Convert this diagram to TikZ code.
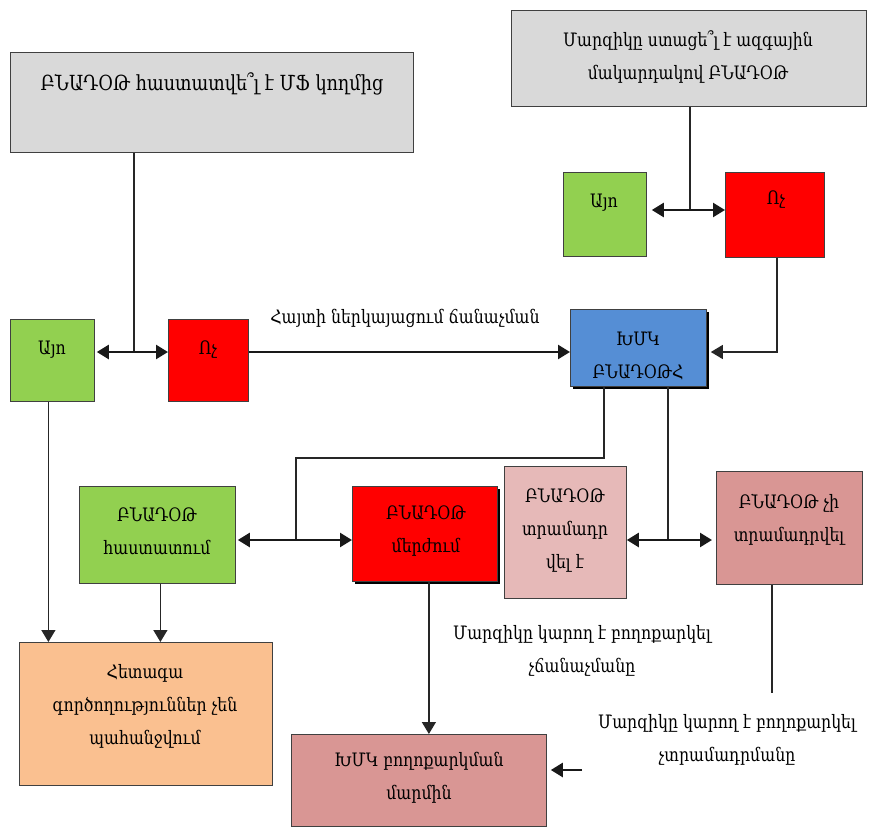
\documentclass[tikz,border=0pt]{standalone}
\usepackage{fontspec}
\setmainfont{DejaVu Serif}[FakeStretch=0.85]
\usetikzlibrary{arrows.meta,shadows}
\definecolor{cgray}{HTML}{D9D9D9}
\definecolor{cgreen}{HTML}{92D050}
\definecolor{cred}{HTML}{FF0000}
\definecolor{cblue}{HTML}{558ED5}
\definecolor{cpinkl}{HTML}{E6B9B8}
\definecolor{cpinkd}{HTML}{D99694}
\definecolor{corange}{HTML}{FAC090}
\tikzset{
  box/.style={draw=black!75, line width=0.8pt, anchor=north west, inner sep=0pt},
  shad/.style={drop shadow={shadow xshift=3pt, shadow yshift=-3pt, fill=black, opacity=1}},
  txt/.style={align=center, inner sep=0pt, font=\fontsize{18.5}{33}\selectfont, text=black},
  bigtxt/.style={txt, font=\fontsize{20.8}{33}\selectfont},
  thinln/.style={line width=1.3pt, draw=black!85},
  thkln/.style={line width=2.4pt, draw=black!90},
  tip/.style={-{Triangle[length=12pt,width=14pt]}},
  dbl/.style={{Triangle[length=12pt,width=14pt]}-{Triangle[length=12pt,width=14pt]}}
}
\begin{document}
\begin{tikzpicture}[x=1pt,y=-1pt]
\useasboundingbox (0,0) rectangle (870,827);
% boxes
\node[box, fill=cgray, minimum width=403pt, minimum height=100pt] (g1) at (10,52) {};
\node[box, fill=cgray, minimum width=355pt, minimum height=96pt] (g2) at (511,10) {};
\node[box, fill=cgreen, minimum width=83pt, minimum height=84pt] (ay2) at (563,172) {};
\node[box, fill=cred, minimum width=99pt, minimum height=85pt] (no2) at (725,172) {};
\node[box, fill=cgreen, minimum width=84pt, minimum height=82pt] (ay1) at (10,319) {};
\node[box, fill=cred, minimum width=80pt, minimum height=82pt] (no1) at (168,319) {};
\node[box, shad, fill=cblue, minimum width=136pt, minimum height=77pt] (xmk) at (570,309) {};
\node[box, fill=cgreen, minimum width=156pt, minimum height=97pt] (gh) at (79,486) {};
\node[box, shad, fill=cred, minimum width=145pt, minimum height=95pt] (rm) at (352,486) {};
\node[box, fill=cpinkl, minimum width=122pt, minimum height=132pt] (pl) at (504,466) {};
\node[box, fill=cpinkd, minimum width=146pt, minimum height=113pt] (pd) at (716,471) {};
\node[box, fill=corange, minimum width=253pt, minimum height=143pt] (or) at (19,642) {};
\node[box, fill=cpinkd, minimum width=255pt, minimum height=92pt] (ap) at (291,734) {};
% texts
\node[bigtxt] (g1t) at (212,84) {ԲՆԱԴՕԹ հաստատվե՞լ է ՄՖ կողմից};
\node[txt] (g2t) at (688,57) {Մարզիկը ստացե՞լ է ազգային\\մակարդակով ԲՆԱԴՕԹ};
\node[txt] (ay2t) at (604,203) {Այո};
\node[txt] (no2t) at (776,200) {Ոչ};
\node[txt] (ay1t) at (52,350) {Այո};
\node[txt] (no1t) at (208,350) {Ոչ};
\node[txt] (lab1) at (405,318) {Հայտի ներկայացում ճանաչման};
\node[txt] (xmkt) at (638,356) {ԽՄԿ\\ԲՆԱԴՕԹՀ};
\node[txt] (ght) at (157,531) {ԲՆԱԴՕԹ\\հաստատում};
\node[txt] (rmt) at (426,531) {ԲՆԱԴՕԹ\\մերժում};
\node[txt] (plt) at (565,530) {ԲՆԱԴՕԹ\\տրամադր\\վել է};
\node[txt] (pdt) at (789,520) {ԲՆԱԴՕԹ չի\\տրամադրվել};
\node[txt] (lab2) at (582,651) {Մարզիկը կարող է բողոքարկել\\չճանաչմանը};
\node[txt] (ort) at (145,706) {Հետագա\\գործողություններ չեն\\պահանջվում};
\node[txt] (lab3) at (727,740) {Մարզիկը կարող է բողոքարկել\\չտրամադրմանը};
\node[txt] (apt) at (419,778) {ԽՄԿ բողոքարկման\\մարմին};
% connectors
\coordinate (j1) at (134,352);
\draw[thinln] (g1.south -| j1) -- (j1);
\draw[thkln, dbl] ([xshift=2pt]ay1.east |- j1) -- (no1.west |- j1);
\draw[thkln, tip] (no1.east |- j1) -- (xmk.west |- j1);
\coordinate (j2) at (690,210);
\draw[thinln] (g2.south -| j2) -- (j2);
\draw[thkln, dbl] ([xshift=5pt]ay2.east |- j2) -- (no2.west |- j2);
\coordinate (c2) at (777,352);
\draw[thinln, tip] (no2.south -| c2) -- (c2) -- ([xshift=4pt]xmk.east |- c2);
\draw[thinln, tip] ([xshift=-4pt]ay1.south) -- ([xshift=-4pt]ay1.south |- or.north);
\draw[thinln, tip] ([xshift=3pt]gh.south) -- ([xshift=3pt]gh.south |- or.north);
\coordinate (k1) at (604,458);
\coordinate (j3) at (296,540);
\draw[thinln] (xmk.south -| k1) -- (k1) -- (k1 -| j3) -- (j3);
\draw[thkln, dbl] ([xshift=2pt]gh.east |- j3) -- (rm.west |- j3);
\coordinate (j4) at (668,540);
\draw[thinln] (xmk.south -| j4) -- (j4);
\draw[thkln, dbl] (pl.east |- j4) -- ([xshift=-4pt]pd.west |- j4);
\draw[thinln, tip] ([xshift=4pt]rm.south) -- ([xshift=4pt]rm.south |- ap.north);
\coordinate (e1) at (772,693);
\draw[thinln] (pd.south -| e1) -- (e1);
\coordinate (e2) at (582,770);
\draw[thkln, tip] (e2) -- ([xshift=4pt]ap.east |- e2);
\end{tikzpicture}
\end{document}
